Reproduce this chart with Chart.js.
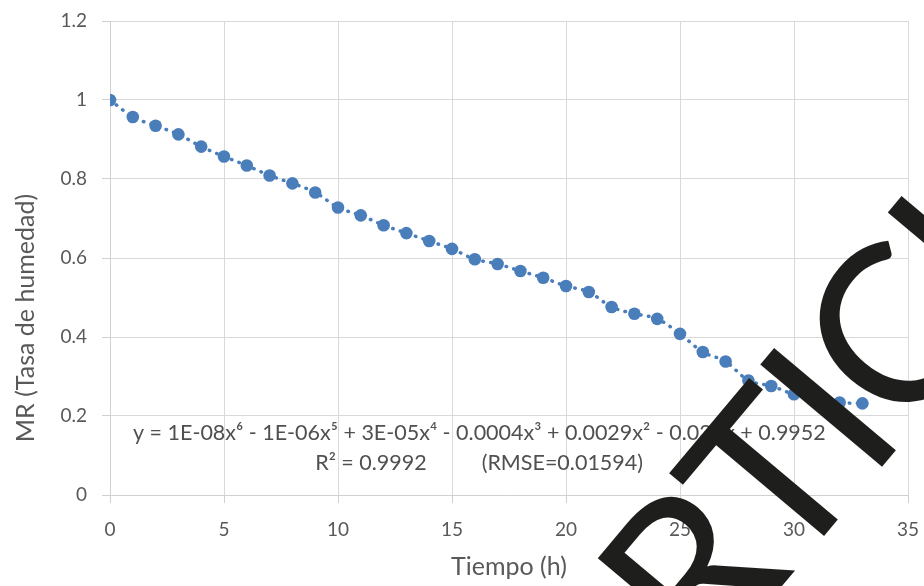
<!DOCTYPE html>
<html>
<head>
<meta charset="utf-8">
<title>MR vs Tiempo</title>
<script src="https://cdn.jsdelivr.net/npm/chart.js@4.4.1/dist/chart.umd.min.js"></script>
<style>
  html, body { margin: 0; padding: 0; background: #fff; }
  #wrap { width: 924px; height: 586px; }
</style>
</head>
<body>
<div id="wrap"><canvas id="mrChart"></canvas></div>
<script>
// Datos
const tiempo = [0, 1, 2, 3, 4, 5, 6, 7, 8, 9, 10, 11, 12, 13, 14, 15, 16,
                17, 18, 19, 20, 21, 22, 23, 24, 25, 26, 27, 28, 29, 30, 31, 32, 33];
const mr = [1.0, 0.957, 0.935, 0.913, 0.882, 0.857, 0.834, 0.809, 0.789, 0.766,
            0.728, 0.708, 0.683, 0.663, 0.643, 0.623, 0.597, 0.585, 0.567, 0.550,
            0.529, 0.514, 0.476, 0.459, 0.446, 0.408, 0.362, 0.338, 0.290, 0.276,
            0.255, 0.245, 0.234, 0.232];
const xTicks = [0, 5, 10, 15, 20, 25, 30, 35];
const yTicks = [0, 0.2, 0.4, 0.6, 0.8, 1, 1.2];

const ecuacion = 'y = 1E-08x⁶ - 1E-06x⁵ + 3E-05x⁴ - 0.0004x³ + 0.0029x² - 0.033x + 0.9952';
const r2Texto = 'R² = 0.9992';
const rmseTexto = '(RMSE=0.01594)';
const tituloX = 'Tiempo (h)';
const tituloY = 'MR (Tasa de humedad)';
const marcaAgua = 'ARTICLE';

const azul = '#4a7ebb';
const gris = '#595959';

const puntos = tiempo.map((t, i) => ({ x: t, y: mr[i] }));

// ecuacion de la tendencia y titulo del eje Y
const textosPlugin = {
    id: 'textos',
    afterDatasetsDraw(chart) {
        const ctx = chart.ctx;
        const xs = chart.scales.x, ys = chart.scales.y;
        ctx.save();
        ctx.fillStyle = '#505050';
        ctx.font = '21.5px Lato';
        ctx.textBaseline = 'middle';
        ctx.textAlign = 'center';
        ctx.fillText(ecuacion, xs.getPixelForValue(16.2), ys.getPixelForValue(0.157));
        ctx.textAlign = 'left';
        ctx.fillText(r2Texto, xs.getPixelForValue(9.0), ys.getPixelForValue(0.081));
        ctx.fillText(rmseTexto, xs.getPixelForValue(16.3), ys.getPixelForValue(0.081));

        ctx.fillStyle = gris;
        ctx.font = '25px Lato';
        ctx.textAlign = 'center';
        ctx.translate(26, 318);
        ctx.rotate(-Math.PI / 2);
        ctx.fillText(tituloY, 0, 0);
        ctx.restore();
    }
};

// marca de agua negra encima de todo
const marcaPlugin = {
    id: 'marca',
    afterDraw(chart) {
        const ctx = chart.ctx;
        ctx.save();
        ctx.font = '222px Lato';
        ctx.fillStyle = '#1e1e1c';
        ctx.textBaseline = 'alphabetic';
        ctx.textAlign = 'left';
        ctx.letterSpacing = '-6px';
        ctx.translate(792, 574);
        ctx.rotate(-50 * Math.PI / 180);
        const ar = ctx.measureText('AR').width;
        ctx.fillText(marcaAgua, -ar, 0);
        ctx.restore();
    }
};

const ctx = document.getElementById('mrChart').getContext('2d');
new Chart(ctx, {
    type: 'scatter',
    data: {
        datasets: [{
            label: 'MR',
            data: puntos,
            backgroundColor: azul,
            borderWidth: 0,
            pointRadius: 6.3,
            pointHoverRadius: 6.3,
            order: 1
        }, {
            label: 'Tendencia',
            data: puntos,
            showLine: true,
            borderColor: azul,
            borderWidth: 3.5,
            borderDash: [0.5, 7.5],
            borderCapStyle: 'round',
            cubicInterpolationMode: 'monotone',
            pointRadius: 0,
            fill: false,
            order: 2
        }]
    },
    options: {
        responsive: true,
        maintainAspectRatio: false,
        animation: false,
        layout: { padding: { left: 0, right: 16, top: 21, bottom: 0 } },
        plugins: {
            legend: { display: false },
            tooltip: { enabled: false }
        },
        scales: {
            x: {
                type: 'linear',
                min: 0,
                max: 35,
                afterBuildTicks: s => { s.ticks = xTicks.map(v => ({ value: v })); },
                afterFit: s => {
                    s.height = 91;
                    s.paddingLeft = 0;
                    s.paddingRight = 0;
                },
                ticks: { color: gris, font: { family: 'Lato', size: 19 }, padding: 15 },
                grid: { color: '#d9d9d9', tickColor: '#d0d0d0', tickLength: 8 },
                border: { color: '#d0d0d0' },
                title: {
                    display: true,
                    text: tituloX,
                    color: gris,
                    font: { family: 'Lato', size: 25, lineHeight: 1.2 },
                    padding: { top: 4, bottom: 4 }
                }
            },
            y: {
                min: 0,
                max: 1.2,
                afterBuildTicks: s => { s.ticks = yTicks.map(v => ({ value: v })); },
                afterFit: s => {
                    s.width = 110;
                    s.paddingTop = 0;
                    s.paddingBottom = 0;
                },
                ticks: {
                    color: gris,
                    font: { family: 'Lato', size: 19 },
                    padding: 15,
                    callback: v => String(+v.toFixed(1))
                },
                grid: { color: '#d9d9d9', tickColor: '#d0d0d0', tickLength: 8 },
                border: { color: '#d0d0d0' }
            }
        }
    },
    plugins: [textosPlugin, marcaPlugin]
});
</script>
</body>
</html>
